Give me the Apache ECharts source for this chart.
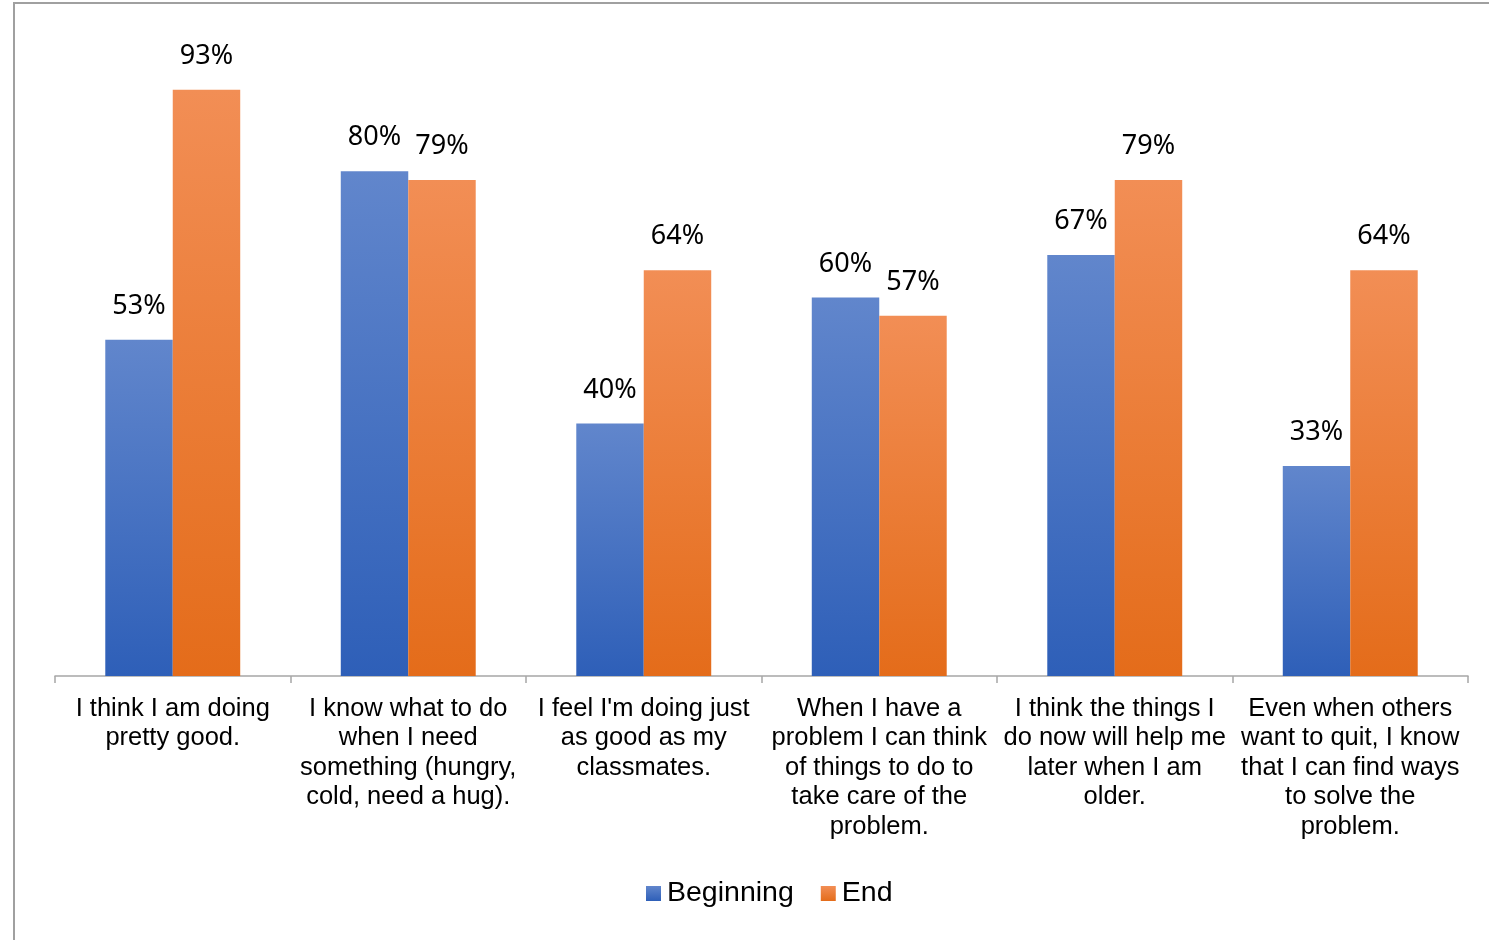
<!DOCTYPE html>
<html>
<head>
<meta charset="utf-8">
<script src="https://cdn.jsdelivr.net/npm/echarts@6/dist/echarts.min.js"></script>
<style>
html,body{margin:0;padding:0;background:#fff;}
#chart{width:1489px;height:940px;}
</style>
</head>
<body>
<div id="chart"></div>
<script>
const categories = [
  "I think I am doing\npretty good.",
  "I know what to do\nwhen I need\nsomething (hungry,\ncold, need a hug).",
  "I feel I'm doing just\nas good as my\nclassmates.",
  "When I have a\nproblem I can think\nof things to do to\ntake care of the\nproblem.",
  "I think the things I\ndo now will help me\nlater when I am\nolder.",
  "Even when others\nwant to quit, I know\nthat I can find ways\nto solve the\nproblem."
];
const beginning = [53.3, 80.0, 40.0, 60.0, 66.7, 33.3];
const end = [92.9, 78.6, 64.3, 57.1, 78.6, 64.3];

const chart = echarts.init(document.getElementById('chart'));
function grad(top, bottom) {
  return new echarts.graphic.LinearGradient(0, 0, 0, 1, [
    {offset: 0, color: top}, {offset: 1, color: bottom}
  ]);
}
const labelStyle = {
  show: true, position: 'top', distance: 20,
  fontFamily: 'Noto Sans', fontSize: 27, color: '#000',
  formatter: p => Math.round(p.value) + '%'
};
chart.setOption({
  animation: false,
  backgroundColor: '#fff',
  graphic: [{
    type: 'rect', shape: {x: 14, y: 3, width: 1600, height: 1100},
    style: {fill: 'none', stroke: '#a0a0a0', lineWidth: 2}, silent: true, z: -1
  }],
  grid: {left: 55, right: 21, top: 45, bottom: 264},
  legend: {
    data: ['Beginning', 'End'], top: 874, left: 641,
    itemWidth: 15, itemHeight: 15, itemGap: 27,
    icon: 'rect',
    textStyle: {fontFamily: 'Liberation Sans', fontSize: 28.5, color: '#000', padding: [0,0,0,1]}
  },
  xAxis: {
    type: 'category', data: categories,
    axisLine: {lineStyle: {color: '#a6a6a6', width: 1.5}},
    axisTick: {show: true, length: 7, lineStyle: {color: '#a6a6a6', width: 1.5}},
    axisLabel: {
      interval: 0, margin: 18, fontFamily: 'Liberation Sans', fontSize: 25.5,
      lineHeight: 29.5, color: '#000', align: 'center'
    }
  },
  yAxis: {type: 'value', min: 0, max: 100, show: false, splitLine: {show: false}},
  series: [
    {
      name: 'Beginning', type: 'bar', data: beginning,
      barGap: '0%', barCategoryGap: '42.7%',
      itemStyle: {color: grad('#6186cc', '#2e5fb8')},
      label: labelStyle
    },
    {
      name: 'End', type: 'bar', data: end,
      itemStyle: {color: grad('#f28e55', '#e46c1a')},
      label: labelStyle
    }
  ]
});
</script>
</body>
</html>
